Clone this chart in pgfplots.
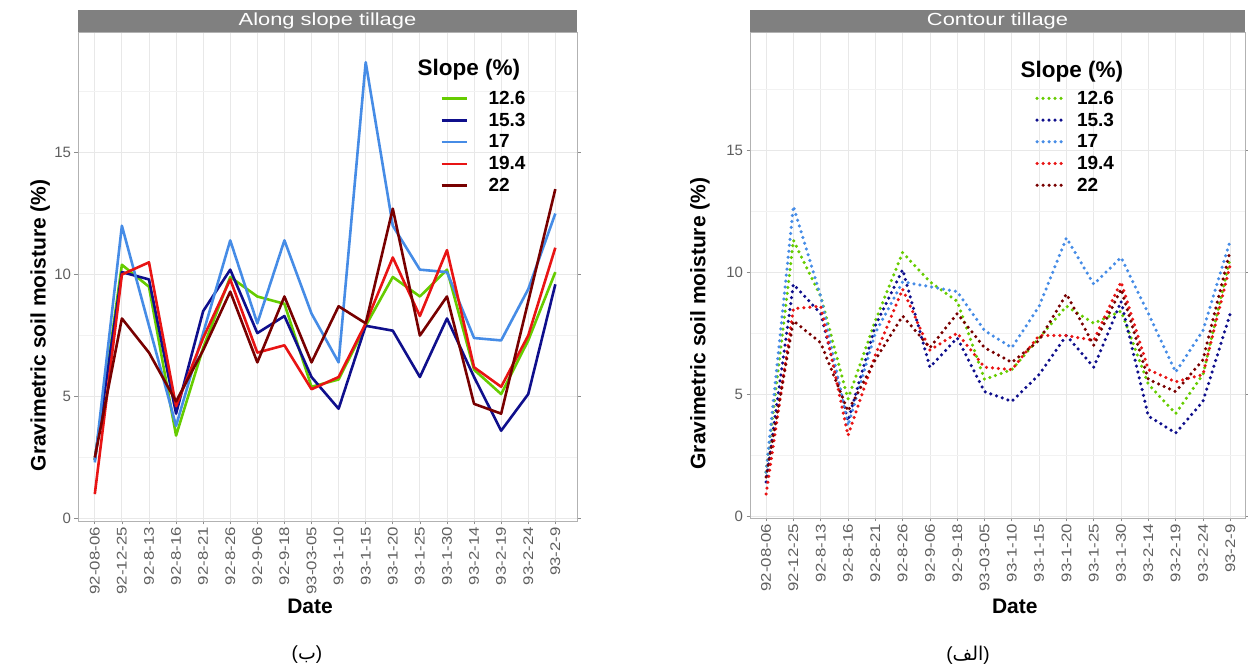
\documentclass[border=0pt]{standalone}
\usepackage{pgfplots}
\pgfplotsset{compat=1.18}
\usepackage{fontspec}
\setmainfont{Liberation Sans}
\newfontfamily\arabicfont[Script=Arabic]{DejaVu Sans}
\TeXXeTstate=1

\definecolor{cA}{RGB}{102,204,0}
\definecolor{cB}{RGB}{15,15,140}
\definecolor{cC}{RGB}{70,140,230}
\definecolor{cD}{RGB}{232,20,20}
\definecolor{cE}{RGB}{120,0,0}
\definecolor{stripgray}{RGB}{128,128,128}
\definecolor{tickgray}{RGB}{95,95,95}

\pgfplotstableread{
x   a     b     c     d     e
0   2.4   2.4   2.3   1.0   2.5
1   10.4  10.1  12.0  10.0  8.2
2   9.5   9.8   7.9   10.5  6.8
3   3.4   4.3   3.8   4.6   4.8
4   7.0   8.5   7.6   7.4   6.9
5   9.9   10.2  11.4  9.8   9.3
6   9.1   7.6   8.0   6.8   6.4
7   8.8   8.3   11.4  7.1   9.1
8   5.4   5.8   8.4   5.3   6.4
9   5.7   4.5   6.4   5.8   8.7
10  7.9   7.9   18.7  8.0   8.0
11  9.9   7.7   12.0  10.7  12.7
12  9.1   5.8   10.2  8.3   7.5
13  10.2  8.2   10.1  11.0  9.1
14  6.1   5.8   7.4   6.2   4.7
15  5.1   3.6   7.3   5.4   4.3
16  7.3   5.1   9.4   7.5   8.9
17  10.1  9.6   12.5  11.1  13.5
}\along

\pgfplotstableread{
x   a     b     c     d     e
0   1.8   1.4   1.8   0.9   1.6
1   11.3  9.5   12.7  8.5   8.0
2   9.0   8.3   9.0   8.6   7.1
3   4.8   3.9   3.7   3.3   4.3
4   8.0   7.8   7.5   6.6   6.4
5   10.8  10.1  9.6   9.3   8.2
6   9.6   6.1   9.4   6.8   6.9
7   8.8   7.3   9.2   7.5   8.3
8   5.6   5.1   7.6   6.1   6.9
9   6.0   4.7   6.9   6.0   6.3
10  7.3   5.8   8.6   7.4   7.2
11  8.6   7.4   11.4  7.4   9.1
12  7.9   6.1   9.5   7.2   7.0
13  8.4   8.8   10.6  9.6   9.3
14  5.4   4.1   8.3   6.0   5.6
15  4.2   3.4   5.9   5.5   5.1
16  5.8   4.7   7.6   5.8   6.4
17  10.6  8.3   11.3  10.3  10.9
}\contour

\pgfplotsset{
  panel/.style={
    scale only axis, anchor=south west,
    /pgf/number format/assume math mode=true,
    xtick={0,...,17},
    xticklabels={92-08-06,92-12-25,92-8-13,92-8-16,92-8-21,92-8-26,92-9-06,92-9-18,93-03-05,93-1-10,93-1-15,93-1-20,93-1-25,93-1-30,93-2-14,93-2-19,93-2-24,93-2-9},
    ytick={0,5,10,15}, minor ytick={2.5,7.5,12.5,17.5},
    xmajorgrids, ymajorgrids, yminorgrids,
    major grid style={draw=black!9, line width=0.8pt},
    minor grid style={draw=black!5, line width=0.5pt},
    axis line style={draw=black!30, line width=0.8pt},
    tick style={draw=black!45, line width=0.7pt},
    tick align=outside, major tick length=3.5pt, minor tick length=0pt,
    xticklabel style={rotate=90, xscale=1.2, anchor=east, font=\fontsize{14}{15}\selectfont, text=tickgray, inner sep=2pt},
    yticklabel style={font=\fontsize{15}{16}\selectfont, text=tickgray},
    xlabel={Date}, ylabel={Gravimetric soil moisture (\%)},
    label style={font=\bfseries\fontsize{21}{23}\selectfont},
    legend cell align=left,
    legend style={draw=none, fill=none, font=\bfseries\fontsize{19}{21}\selectfont, row sep=7pt, inner sep=0pt, nodes={inner sep=0pt}},
  },
  solidl/.style={line width=2.6pt, line join=round},
  dotl/.style={line width=3.5pt, line cap=round, dash pattern=on 0pt off 6pt},
}

\begin{document}
\begin{tikzpicture}
\useasboundingbox (0pt,0pt) rectangle (1248pt,666pt);

% ---------- left panel ----------
\begin{axis}[panel, name=L, at={(78pt,145pt)}, width=499pt, height=489pt,
  xmin=-0.62, xmax=17.8, ymin=-0.1, ymax=19.94,
  xlabel style={at={(axis description cs:0.465,-0.174)}, anchor=center},
  ylabel style={at={(axis description cs:-0.076,0.40)}, anchor=center},
  legend style={at={(axis description cs:0.7255,0.879)}, anchor=north west},
  legend image code/.code={\draw[#1] (0pt,0pt) -- (25pt,0pt); \path[draw=none] (0pt,0pt) -- (47pt,0pt);},
]
\addplot[solidl, cA] table[x=x, y=a] {\along};
\addplot[solidl, cB] table[x=x, y=b] {\along};
\addplot[solidl, cC] table[x=x, y=c] {\along};
\addplot[solidl, cD] table[x=x, y=d] {\along};
\addplot[solidl, cE] table[x=x, y=e] {\along};
\legend{12.6,15.3,17,19.4,22}
\end{axis}
\fill[stripgray] (78pt,634pt) rectangle (577pt,656pt);
\node[text=white, font=\fontsize{17.5}{18}\selectfont, xscale=1.25] at (327.5pt,645pt) {Along slope tillage};
\node[anchor=west, font=\bfseries\fontsize{22.5}{24}\selectfont] at (414pt,596pt) {Slope (\%)};

% ---------- right panel ----------
\begin{axis}[panel, name=R, at={(750pt,148pt)}, width=495pt, height=486pt,
  xmin=-0.59, xmax=17.54, ymin=-0.08, ymax=19.84,
  xlabel style={at={(axis description cs:0.535,-0.181)}, anchor=center},
  ylabel style={at={(axis description cs:-0.101,0.40)}, anchor=center},
  legend style={at={(axis description cs:0.576,0.879)}, anchor=north west},
  legend image code/.code={\draw[#1] (0pt,0pt) -- (25pt,0pt); \path[draw=none] (0pt,0pt) -- (40pt,0pt);},
]
\addplot[dotl, cA] table[x=x, y=a] {\contour};
\addplot[dotl, cB] table[x=x, y=b] {\contour};
\addplot[dotl, cC] table[x=x, y=c] {\contour};
\addplot[dotl, cD] table[x=x, y=d] {\contour};
\addplot[dotl, cE] table[x=x, y=e] {\contour};
\legend{12.6,15.3,17,19.4,22}
\end{axis}
\fill[stripgray] (750pt,634pt) rectangle (1245pt,656pt);
\node[text=white, font=\fontsize{17.5}{18}\selectfont, xscale=1.25] at (997.5pt,645pt) {Contour tillage};
\node[anchor=west, font=\bfseries\fontsize{22.5}{24}\selectfont] at (1017pt,594pt) {Slope (\%)};

% ---------- captions ----------
\node[font=\fontsize{19}{21}\selectfont] at (307pt,11pt) {({\arabicfont ب})};
\node[font=\fontsize{19}{21}\selectfont] at (968pt,11pt) {({\arabicfont\beginR الف\endR})};
\end{tikzpicture}
\end{document}
